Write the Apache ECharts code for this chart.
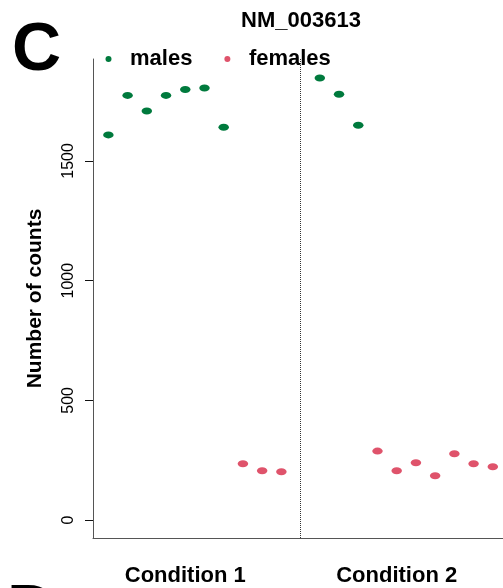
<!DOCTYPE html>
<html>
<head>
<meta charset="utf-8">
<title>NM_003613</title>
<script src="https://cdn.jsdelivr.net/npm/echarts@6.0.0/dist/echarts.min.js"></script>
<style>
  html, body { margin: 0; padding: 0; background: #fff; }
  #chart { width: 503px; height: 588px; }
</style>
</head>
<body>
<div id="chart"></div>
<script>
// sample positions along the x axis (11 is the gap between conditions)
var maleX = [1, 2, 3, 4, 5, 6, 7, 12, 13, 14];
var maleY = [1609, 1774, 1709, 1774, 1799, 1805, 1641, 1847, 1779, 1649];
var femaleX = [8, 9, 10, 15, 16, 17, 18, 19, 20, 21];
var femaleY = [235, 206, 202, 288, 206, 239, 185, 277, 235, 223];

var conditionNames = ['Condition 1', 'Condition 2'];
var conditionPos = [5, 16];
var dividerX = 11;
var yTicks = [0, 500, 1000, 1500];

var FONT = '"Liberation Sans", Arial, sans-serif';
var ellipse = 'path://M0,5a5,5 0 1,0 10,0a5,5 0 1,0 -10,0z';

function pairs(xs, ys) {
    return xs.map(function (x, i) { return [x, ys[i]]; });
}

var chart = echarts.init(document.getElementById('chart'));

chart.setOption({
    animation: false,
    title: {
        text: 'NM_003613',
        left: 241,
        top: 10,
        padding: 0,
        textStyle: { fontFamily: FONT, fontSize: 22, fontWeight: 'bold', color: '#000' }
    },
    legend: {
        data: ['males', 'females'],
        left: 105.5,
        top: 48,
        padding: 0,
        icon: 'circle',
        itemWidth: 7,
        itemHeight: 6,
        itemGap: 32,
        textStyle: {
            fontFamily: FONT, fontSize: 22, fontWeight: 'bold', color: '#000',
            padding: [0, 0, 0, 13]
        }
    },
    grid: { left: 93, top: 59, bottom: 50, right: 0 },
    xAxis: {
        type: 'value',
        min: 0.2,
        max: 21.53,
        splitLine: { show: false },
        axisTick: { show: false },
        axisLine: { onZero: false, lineStyle: { color: '#555', width: 1 } },
        axisLabel: {
            customValues: conditionPos,
            margin: 27,
            formatter: function (v) {
                return conditionNames[conditionPos.indexOf(v)] || '';
            },
            fontFamily: FONT, fontSize: 22, fontWeight: 'bold', color: '#000'
        }
    },
    yAxis: {
        type: 'value',
        min: -75,
        max: 1926,
        splitLine: { show: false },
        axisLine: { show: true, onZero: false, lineStyle: { color: '#555', width: 1 } },
        axisTick: { show: true, customValues: yTicks, length: 8, lineStyle: { color: '#111' } },
        axisLabel: {
            customValues: yTicks,
            rotate: 90,
            margin: 16,
            formatter: function (v) { return String(v); },
            fontFamily: FONT, fontSize: 16, color: '#000'
        },
        name: 'Number of counts',
        nameLocation: 'middle',
        nameGap: 47,
        nameTextStyle: { fontFamily: FONT, fontSize: 21, fontWeight: 'bold', color: '#000' }
    },
    graphic: [
        { type: 'text', left: 12, top: 17, style: { text: 'C', font: 'bold 68px ' + FONT, fill: '#000' } },
        { type: 'text', left: 7, top: 579, style: { text: 'D', font: 'bold 68px ' + FONT, fill: '#000' } }
    ],
    series: [
        {
            name: 'males',
            type: 'scatter',
            symbol: ellipse,
            symbolSize: [10.5, 7],
            itemStyle: { color: '#007a3d', opacity: 1 },
            data: pairs(maleX, maleY),
            markLine: {
                silent: true,
                symbol: 'none',
                label: { show: false },
                lineStyle: { type: 'dotted', color: '#333', width: 1 },
                data: [{ xAxis: dividerX }]
            }
        },
        {
            name: 'females',
            type: 'scatter',
            symbol: ellipse,
            symbolSize: [10.5, 7],
            itemStyle: { color: '#df536b', opacity: 1 },
            data: pairs(femaleX, femaleY)
        }
    ]
});
</script>
</body>
</html>
